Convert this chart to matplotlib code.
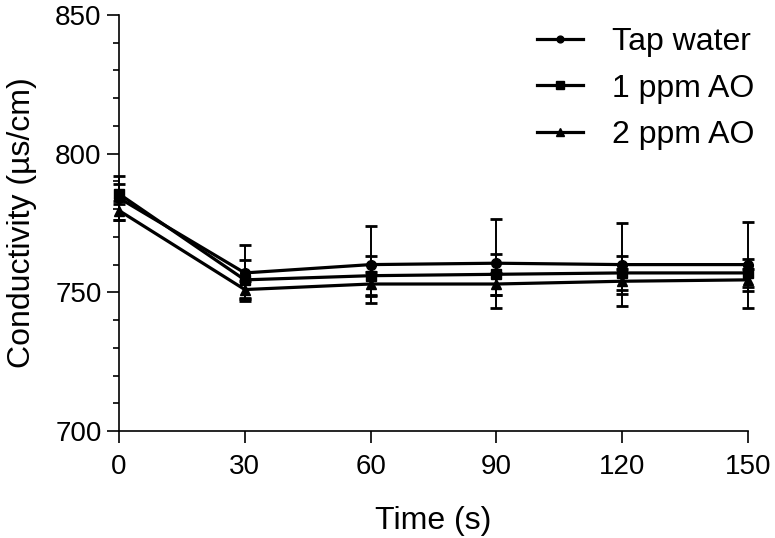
import matplotlib
matplotlib.use('Agg')
import matplotlib.pyplot as plt
from matplotlib.lines import Line2D
from matplotlib.ticker import MultipleLocator

plt.rcParams['font.family'] = ['Liberation Sans', 'DejaVu Sans']

# data
time_s = [0, 30, 60, 90, 120, 150]

tap_water = [784, 757, 760, 760.5, 760, 760]
tap_water_sd = [8, 10, 14, 16, 15, 15.5]

ppm1_ao = [785.5, 754.5, 756, 756.5, 757, 757]
ppm1_ao_sd = [3.5, 7, 7, 7.5, 6, 5]

ppm2_ao = [779.5, 751, 753, 753, 754, 754.5]
ppm2_ao_sd = [3.5, 3, 4.5, 4, 4.5, 4]

series = [
    ('Tap water', tap_water, tap_water_sd, 'o', 7),
    ('1 ppm AO', ppm1_ao, ppm1_ao_sd, 's', 7.5),
    ('2 ppm AO', ppm2_ao, ppm2_ao_sd, '^', 7.5),
]

fig = plt.figure(figsize=(7.75, 5.38), dpi=100)
ax = fig.add_axes([119 / 775, 1 - 431 / 538, 629 / 775, 416 / 538])

handles = []
for label, values, sd, marker, ms in series:
    ax.errorbar(time_s, values, yerr=sd, color='black', marker=marker,
                markersize=ms, linewidth=2.3, elinewidth=1.4, capsize=4,
                capthick=2, clip_on=False)
    handles.append(Line2D([], [], color='black', marker=marker,
                          markersize=ms * 0.7, linewidth=2.3, label=label))

ax.set_xlim(0, 150)
ax.set_ylim(700, 850)
ax.set_xticks(time_s)
ax.yaxis.set_major_locator(MultipleLocator(50))
ax.yaxis.set_minor_locator(MultipleLocator(10))

for side in ('top', 'right'):
    ax.spines[side].set_visible(False)
for side in ('left', 'bottom'):
    ax.spines[side].set_linewidth(1.2)

ax.tick_params(axis='both', which='major', direction='out', length=8.5,
               width=1.2, labelsize=20, pad=4)
ax.tick_params(axis='x', which='major', pad=8)
ax.tick_params(axis='y', which='minor', direction='out', length=4.5,
               width=1.2)

ax.set_xlabel('Time (s)', fontsize=23, labelpad=19)
ax.set_ylabel('Conductivity (\u00b5s/cm)', fontsize=23, labelpad=13)

ax.legend(handles=handles, loc='upper left',
          bbox_to_anchor=(537 / 775, 1 - 27 / 538),
          bbox_transform=fig.transFigure, frameon=False, fontsize=23,
          borderpad=0, borderaxespad=0, handlelength=1.45,
          handletextpad=0.9, labelspacing=0.52)

fig.savefig('out.png', dpi=100)
